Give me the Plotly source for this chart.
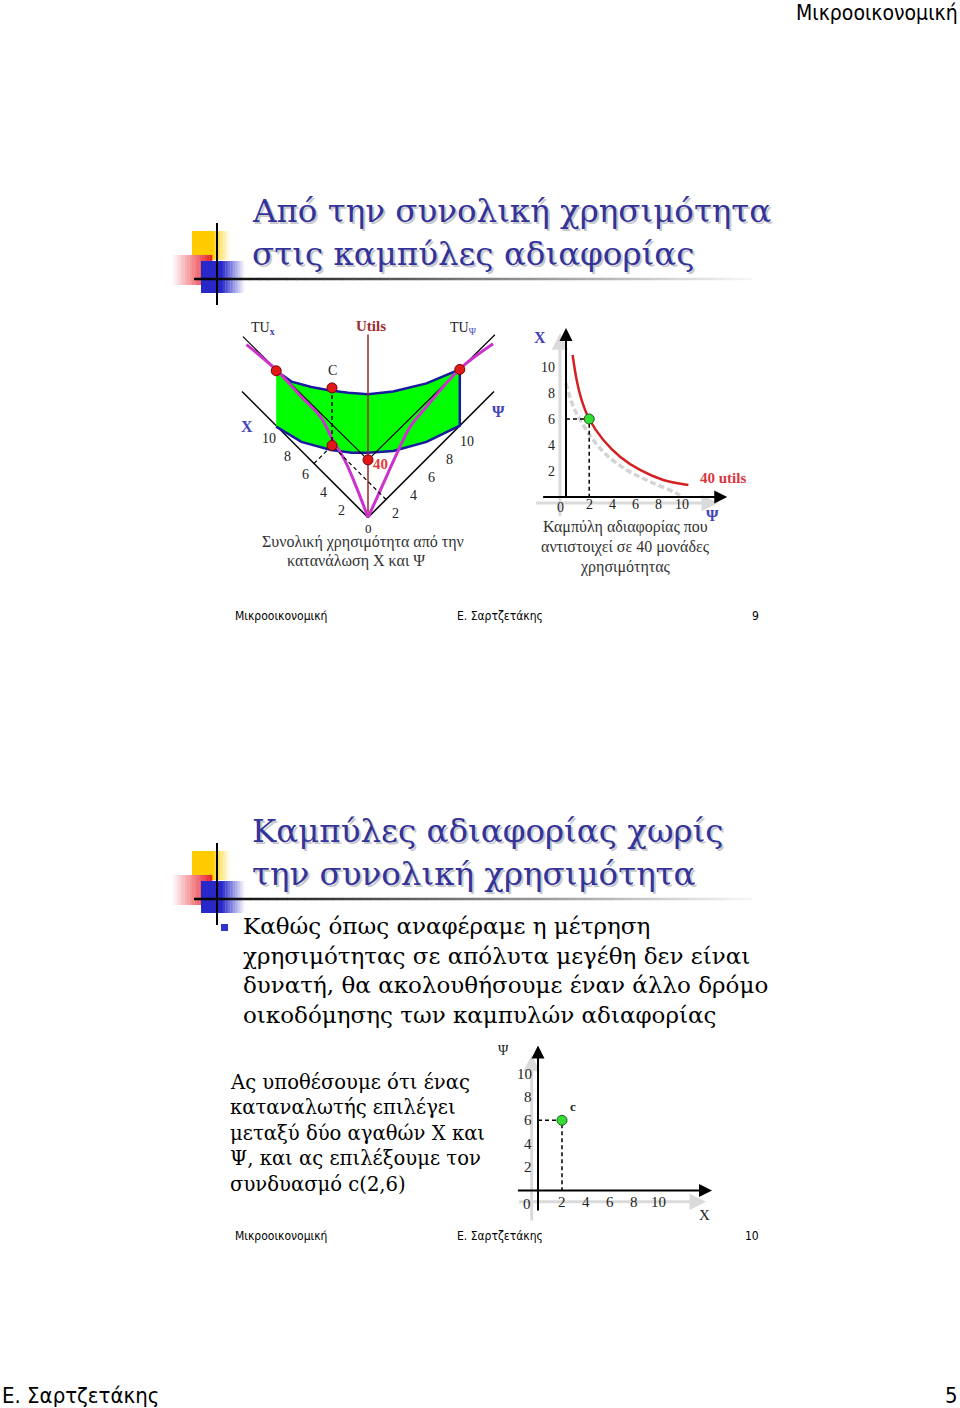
import plotly.graph_objects as go

W, H = 960, 1408

# ---------------- data ----------------
ticks = [2, 4, 6, 8, 10]
tick_text = ["2", "4", "6", "8", "10"]

# slide 9, left drawing: total utility (oblique view, X to the left, Ψ to the right, utils up)
axis_len = 14          # length of the X and Ψ floor axes
utils_top = 127        # top of the utils axis, in utils
utils_level = 40
choice_x, choice_psi = 6, 2
# TU curves and the green band, in projected drawing units
tu_x_h = [-13.5, -10.2, -7.4, -5.3, -3.9, -2.6, -1.3, 0]
tu_x_v = [19.2, 16.4, 13.4, 11.2, 8.6, 6.4, 3.4, 0]
tu_psi_h = [13.9, 10.2, 6.5, 4.7, 3.2, 1.9, 0]
tu_psi_v = [19.3, 16.5, 12.3, 10.1, 7.1, 4.2, 0]
chord_h = [-13.9, 14.1]
chord_v = [20.1, 20.3]
band_top_h = [-10.2, -8.5, -6.3, -4.2, -2.2, 0, 2.8, 6.5, 10.2]
band_top_v = [16.3, 15.1, 14.5, 14.1, 13.85, 13.7, 14.0, 14.9, 16.45]
band_bot_h = [10.2, 6.5, 2.8, 0, -1.8, -4.1, -7.4, -10.2]
band_bot_v = [10.2, 8.4, 7.4, 7.2, 7.2, 7.5, 8.4, 10.1]

# slide 9, right: indifference curve for 40 utils (Ψ horizontal, X vertical)
ic_psi = [0.57, 0.92, 1.35, 2.0, 3.22, 4.66, 6.38, 8.39, 10.55]
ic_x = [10.92, 9.0, 7.46, 6.0, 4.38, 3.1, 2.08, 1.31, 0.92]
old_psi = [0.0, 0.63, 1.49, 2.35, 3.5, 5.23, 7.24, 9.54, 10.0]
old_x = [8.75, 6.95, 5.54, 4.38, 3.23, 2.08, 1.18, 0.28, 0.0]

# slide 10: bundle c(2,6)
c_x, c_psi = 2, 6

title1 = ["Από την συνολική χρησιμότητα", "στις καμπύλες αδιαφορίας"]
title2 = ["Καμπύλες αδιαφορίας χωρίς", "την συνολική χρησιμότητα"]
bullet = ["Καθώς όπως αναφέραμε η μέτρηση",
          "χρησιμότητας σε απόλυτα μεγέθη δεν είναι",
          "δυνατή, θα ακολουθήσουμε έναν άλλο δρόμο",
          "οικοδόμησης των καμπυλών αδιαφορίας"]
para = ["Ας υποθέσουμε ότι ένας", "καταναλωτής επιλέγει", "μεταξύ δύο αγαθών Χ και",
        "Ψ, και ας επιλέξουμε τον", "συνδυασμό c(2,6)"]
cap_a = ["Συνολική χρησιμότητα από την", "κατανάλωση Χ και Ψ"]
cap_b = ["Καμπύλη αδιαφορίας που", "αντιστοιχεί σε 40 μονάδες", "χρησιμότητας"]

SERIF = "Liberation Serif, Times New Roman, serif"
BOOK = "DejaVu Serif, serif"
SANS = "DejaVu Sans Condensed, DejaVu Sans, sans-serif"
NAVY = "#333399"
BLUE = "#4343b8"
K = 0.16  # utils -> drawing units


def proj(x, psi, u=0.0):
    return psi - x, x + psi + K * u


def panel(px0, px1, py_top, py_bot, ox, oy, sx, sy, n):
    xa = dict(domain=[px0 / W, px1 / W], range=[(px0 - ox) / sx, (px1 - ox) / sx],
              visible=False, fixedrange=True, anchor="y" + n)
    ya = dict(domain=[1 - py_bot / H, 1 - py_top / H], range=[(oy - py_bot) / sy, (oy - py_top) / sy],
              visible=False, fixedrange=True, anchor="x" + n)
    return xa, ya


fig = go.Figure()
shapes, notes = [], []


def line(x, y, ax, color="black", width=1.5, dash=None, mode="lines", **kw):
    fig.add_trace(go.Scatter(x=x, y=y, mode=mode, xaxis="x" + ax, yaxis="y" + ax, hoverinfo="skip",
                             line=dict(color=color, width=width, dash=dash), showlegend=False, **kw))


def label(x, y, s, ax, size=14, color="#222", family=SERIF, xanchor="center", bold=False):
    notes.append(dict(x=x, y=y, xref="x" + ax, yref="y" + ax, text=f"<b>{s}</b>" if bold else s,
                      showarrow=False, xanchor=xanchor, yanchor="middle",
                      font=dict(size=size, color=color, family=family)))


def arrow(x0, y0, x1, y1, ax, color="black", width=2, size=1.3):
    notes.append(dict(x=x1, y=y1, ax=x0, ay=y0, xref="x" + ax, yref="y" + ax, axref="x" + ax, ayref="y" + ax,
                      text="", showarrow=True, arrowhead=2, arrowsize=size, arrowwidth=width, arrowcolor=color,
                      font=dict(size=10)))


def blend(c0, c1, t):
    return "rgb(%d,%d,%d)" % tuple(round(a + (b - a) * t) for a, b in zip(c0, c1))


def grad_rect(x0, x1, y0, y1, c0, c1, solid_to, n=14):
    shapes.append(dict(type="rect", xref="x4", yref="y4", x0=x0, x1=solid_to, y0=y0, y1=y1,
                       fillcolor=blend(c0, c0, 0), line_width=0, layer="below"))
    step = (x1 - solid_to) / n
    for i in range(n):
        shapes.append(dict(type="rect", xref="x4", yref="y4", x0=solid_to + i * step, x1=solid_to + (i + 1) * step + 0.3,
                           y0=y0, y1=y1, fillcolor=blend(c0, c1, (i + 0.5) / n), line_width=0, layer="below"))


def logo(dy):
    grad_rect(192, 230, 231 + dy, 260 + dy, (255, 204, 0), (255, 255, 255), 213)
    # red block fades toward the left
    n = 16
    for i in range(n):
        xa = 172 + i * 40 / n
        shapes.append(dict(type="rect", xref="x4", yref="y4", x0=xa, x1=xa + 40 / n + 0.3, y0=255 + dy, y1=285 + dy,
                           fillcolor=blend((255, 255, 255), (232, 30, 40), (i + 0.5) / n), line_width=0, layer="below"))
    grad_rect(201, 245, 261 + dy, 293 + dy, (40, 40, 200), (255, 255, 255), 222)
    shapes.append(dict(type="line", xref="x4", yref="y4", x0=217, x1=217, y0=223 + dy, y1=305 + dy,
                       line=dict(color="black", width=2)))
    n = 60
    for i in range(n):
        xa = 194 + i * (752 - 194) / n
        shapes.append(dict(type="line", xref="x4", yref="y4", x0=xa, x1=xa + (752 - 194) / n + 0.5,
                           y0=279 + dy, y1=279 + dy,
                           line=dict(color=blend((0, 0, 0), (250, 250, 250), i / n), width=2.5)))


def page_text(x, y, s, size, color="black", family=SERIF, xanchor="left"):
    notes.append(dict(x=x, y=y, xref="x4", yref="y4", text=s, showarrow=False, xanchor=xanchor,
                      yanchor="middle", font=dict(size=size, color=color, family=family)))


def slide_title(lines, y0):
    for i, s in enumerate(lines):
        page_text(252, y0 + i * 43 + 2, s, 32.5, color="#c8c8cc", family=BOOK)
        page_text(250, y0 + i * 43, s, 32.5, color=NAVY, family=BOOK)


# ---------------- page furniture ----------------
page_text(960, 13, "Μικροοικονομική", 21, family=SANS, xanchor="right")
page_text(0, 1395, "Ε. Σαρτζετάκης", 22, family=SANS)
page_text(960, 1395, "5", 22, family=SANS, xanchor="right")
for dy, num in [(0, "9"), (620, "10")]:
    logo(dy)
    page_text(233, 616 + dy, "Μικροοικονομική", 12, family=SANS)
    page_text(455, 616 + dy, "Ε. Σαρτζετάκης", 12, family=SANS)
    page_text(761, 616 + dy, num, 12, family=SANS, xanchor="right")
slide_title(title1, 211)
slide_title(title2, 831)
shapes.append(dict(type="rect", xref="x4", yref="y4", x0=221, x1=228, y0=924, y1=931,
                   fillcolor="#3333cc", line_width=0))
for i, s in enumerate(bullet):
    page_text(241, 926 + i * 29.6, s, 23, family=BOOK)
for i, s in enumerate(para):
    page_text(228, 1082 + i * 25.5, s, 19.6, family=BOOK)

# ---------------- slide 9, left: total utility ----------------
ox, oy = proj(axis_len, 0)
line([0, ox], [0, oy], "")
ox, oy = proj(0, axis_len)
line([0, ox], [0, oy], "")
line(band_top_h + band_bot_h, band_top_v + band_bot_v, "", color="#1a1aa0", width=2.5,
     fill="toself", fillcolor="#00ff00")
line([0, 0], [0, proj(0, 0, utils_top)[1]], "", color="#a0242a", width=1.5)
fx, fy = proj(0, 0, utils_level)
line([chord_h[0], fx, chord_h[1]], [chord_v[0], fy, chord_v[1]], "", width=1.2)
line(tu_x_h, tu_x_v, "", color="#cc33cc", width=3, line_shape="spline")
line(tu_psi_h, tu_psi_v, "", color="#cc33cc", width=3, line_shape="spline")
px_, py_ = proj(choice_x, choice_psi)
cx_, cy_ = proj(choice_x, choice_psi, utils_level)
ax_, ay_ = proj(choice_x, 0)
bx_, by_ = proj(0, choice_psi)
line([cx_, px_], [cy_, py_], "", dash="4px,3px")
line([ax_, px_, bx_], [ay_, py_, by_], "", width=1.2, dash="4px,3px")
line([band_top_h[0], band_top_h[-1], cx_, px_, fx], [band_top_v[0], band_top_v[-1], cy_, py_, fy], "",
     mode="markers", marker=dict(size=10, color="#e01818", line=dict(color="#7a0000", width=1)))
for t, s in zip(ticks, tick_text):
    lx, ly = proj(t, 0)
    label(lx - 1.0, ly - 1.2, s, "")
    lx, ly = proj(0, t)
    label(lx + 1.0, ly - 1.6, s, "")
label(0, -1.2, "0", "", size=13)
label(0.3, 21.3, "Utils", "", size=15, color="#9b2d30", bold=True)
label(1.4, 6.0, "40", "", size=15, color="#e03c3c", bold=True)
label(-3.9, 16.3, "C", "", size=14)
label(-13.2, 21.0, "TU<sub><b><span style='color:#3d3dc8'>x</span></b></sub>", "", size=14, xanchor="left")
label(8.9, 21.0, "TU<sub><span style='color:#5050c8'>Ψ</span></sub>", "", size=14, xanchor="left")
label(-13.5, 10.1, "X", "", size=16, color=BLUE, bold=True)
label(14.5, 11.8, "Ψ", "", size=16, color=BLUE, bold=True)
for i, s in enumerate(cap_a):
    page_text([363, 356][i], 542 + i * 19, s, 16, color="#333", xanchor="center")

# ---------------- slide 9, right: indifference curve ----------------
arrow(-0.52, -1.6, -0.52, 12.6, "2", color="#dadada", width=3, size=1.1)
arrow(-2.7, -0.46, 13.1, -0.46, "2", color="#dadada", width=3, size=1.1)
line(old_psi, old_x, "2", color="#d4d4d4", width=3.5, dash="6px,3px", line_shape="spline")
arrow(0, -0.1, 0, 13.0, "2")
arrow(-2.1, 0, 13.9, 0, "2")
line(ic_psi, ic_x, "2", color="#d42020", width=2.5, line_shape="spline")
line([0, c_x, c_x], [c_psi, c_psi, 0], "2", dash="4px,3px")
line([c_x], [c_psi], "2", mode="markers", marker=dict(size=10, color="#33dd33", line=dict(color="#1d5a1d", width=1)))
for t, s in zip(ticks, tick_text):
    label(-0.75, t, s, "2", xanchor="right")
    label(t, -0.55, s, "2")
label(-0.45, -0.8, "0", "2")
label(-2.2, 12.3, "X", "2", size=16, color=BLUE, bold=True)
label(12.6, -1.4, "Ψ", "2", size=16, color=BLUE, bold=True)
label(13.5, 1.45, "40 utils", "2", size=15, color="#d9363e", bold=True)
for i, s in enumerate(cap_b):
    page_text(625, 527 + i * 20, s, 16, color="#333", xanchor="center")

# ---------------- slide 10: bundle c ----------------
arrow(-0.53, -2.7, -0.53, 11.6, "3", color="#dadada", width=3, size=1.1)
arrow(-1.7, -0.96, 14.0, -0.96, "3", color="#dadada", width=3, size=1.1)
arrow(0, -1.84, 0, 12.4, "3")
arrow(-1.8, 0, 14.5, 0, "3")
line([0, c_x, c_x], [c_psi, c_psi, 0], "3", dash="4px,3px")
line([c_x], [c_psi], "3", mode="markers", marker=dict(size=10, color="#33dd33", line=dict(color="#1d5a1d", width=1)))
for t, s in zip(ticks, tick_text):
    label(-0.35, t, s, "3", size=15, xanchor="right")
    label(t, -0.95, s, "3", size=15)
label(-0.95, -1.15, "0", "3", size=15)
label(2.95, 7.15, "c", "3", size=13, bold=True)
label(-2.9, 12.0, "Ψ", "3", size=14)
label(13.9, -2.1, "X", "3", size=15)

xa1, ya1 = panel(235, 510, 318, 575, 368, 517.5, 9, 9, "")
xa2, ya2 = panel(530, 770, 322, 520, 566, 497, 11.6, 13, "2")
xa3, ya3 = panel(490, 725, 1040, 1225, 538, 1190.5, 12, 11.7, "3")

fig.update_layout(
    width=W, height=H, margin=dict(l=0, r=0, t=0, b=0),
    paper_bgcolor="white", plot_bgcolor="rgba(0,0,0,0)", showlegend=False,
    xaxis=xa1, yaxis=ya1, xaxis2=xa2, yaxis2=ya2, xaxis3=xa3, yaxis3=ya3,
    xaxis4=dict(domain=[0, 1], range=[0, W], visible=False, fixedrange=True, anchor="y4"),
    yaxis4=dict(domain=[0, 1], range=[H, 0], visible=False, fixedrange=True, anchor="x4"),
    shapes=shapes, annotations=notes,
)
fig.write_html("out.html", config={"displayModeBar": False},
               post_script="document.body.style.margin='0';document.body.style.overflow='hidden';")
